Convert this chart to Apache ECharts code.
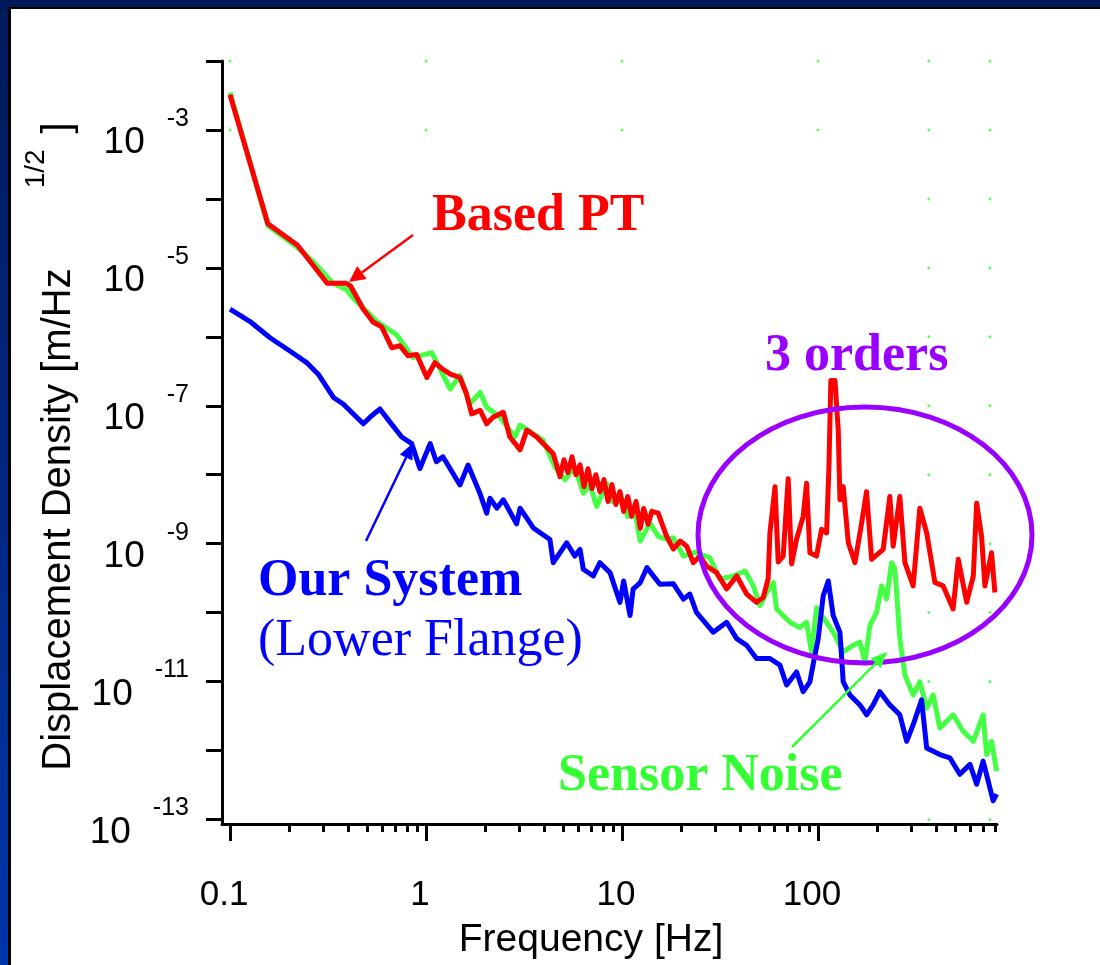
<!DOCTYPE html>
<html><head><meta charset="utf-8">
<script src="https://cdn.jsdelivr.net/npm/echarts@6/dist/echarts.min.js"></script>
<style>
html,body{margin:0;padding:0;width:1100px;height:965px;overflow:hidden;background:linear-gradient(180deg,#001a58 0%,#0036aa 100%);}
#panel{position:absolute;left:8px;top:7px;right:0;bottom:0;background:#fff;border-left:3px solid #000;border-top:2px solid #000;}
#chart{position:absolute;left:0;top:0;width:1100px;height:965px;}
</style></head><body><div id="panel"></div><div id="chart"></div>
<script>
// ---------------- data ----------------
const basedPTFreq = [0.1,0.156,0.221,0.313,0.391,0.413,0.478,0.537,0.594,0.668,0.736,0.809,0.897,1.01,1.11,1.22,1.33,1.49,1.61,1.71,1.89,2.04,2.20,2.48,2.68,3.02,3.27,3.67,4.46,4.83,5.06,5.30,5.56,5.82,6.11,6.40,6.71,7.03,7.36,7.72,8.09,8.49,8.89,9.31,9.77,10.2,10.7,11.2,11.8,12.4,12.9,13.6,14.2,15.3,16.9,18.3,19.8,21.4,23.1,25.0,27.0,30.4,34.2,38.5,43.3,48.6,52.6,55.7,56.9,60.4,62.7,66.5,70.5,73.4,77.8,84.1,87.5,91.0,98.4,104.4,110.7,113.8,116.4,122.2,127.0,129.5,134.6,142.9,154.5,167.1,177.0,187.9,215.3,232.8,242.1,261.8,277.9,306.2,331.1,358.9,395.4,435.5,489.8,520.0,574.1,620.9,645.7,684.0,711.2,769.1,799.8];
const basedPTVal = [3.24e-3,4.37e-5,2.13e-5,5.98e-6,5.98e-6,5.42e-6,2.53e-6,1.64e-6,1.39e-6,6.95e-7,7.43e-7,5.33e-7,5.56e-7,2.57e-7,4.23e-7,3.38e-7,2.87e-7,2.57e-7,1.48e-7,7.62e-8,8.61e-8,5.47e-8,6.84e-8,8.05e-8,3.52e-8,2.29e-8,4.44e-8,3.52e-8,2.02e-8,9.36e-9,1.64e-8,1.07e-8,1.82e-8,1.0e-8,1.39e-8,6.71e-9,1.22e-8,6.30e-9,1.0e-8,5.69e-9,8.47e-9,4.09e-9,7.18e-9,3.70e-9,5.69e-9,2.94e-9,4.82e-9,2.49e-9,4.09e-9,1.67e-9,3.24e-9,1.91e-9,2.94e-9,2.77e-9,1.28e-9,8.34e-10,1.09e-9,9.2e-10,5.30e-10,6.61e-10,4.74e-10,3.80e-10,2.21e-10,3.40e-10,1.86e-10,1.41e-10,1.66e-10,3.08e-10,1.43e-9,6.71e-9,5.42e-10,6.61e-10,8.75e-9,5.07e-10,1.16e-9,2.49e-9,7.50e-9,7.38e-10,6.61e-10,1.62e-9,1.43e-9,1.30e-8,2.33e-7,2.33e-7,4.40e-8,4.33e-9,6.71e-9,1.03e-9,5.30e-10,1.99e-9,5.69e-9,5.93e-10,8.26e-10,4.82e-9,9.2e-10,4.82e-9,5.30e-10,2.44e-10,3.27e-9,1.43e-9,2.73e-10,2.44e-10,1.13e-10,5.93e-10,1.41e-10,3.40e-10,3.86e-9,1.28e-9,2.44e-10,7.38e-10,1.96e-10];

const sensorFreq = [0.1,0.156,0.221,0.266,0.336,0.394,0.425,0.560,0.708,0.859,1.07,1.33,1.49,1.67,1.89,2.04,2.39,2.84,3.02,3.95,4.55,5.12,5.75,6.35,6.87,7.43,8.36,8.89,9.77,10.7,11.5,12.4,13.9,15.3,16.9,18.3,20.6,23.6,28.1,31.6,37.0,42.5,46.8,50.6,54.3,59.2,61.5,71.9,80.9,87.5,92.7,98.4,104.4,110.7,119.7,134.6,151.4,163.7,173.8,184.1,199.1,211.3,223.9,237.7,247.2,261.8,277.9,306.2,331.1,358.9,387.3,418.8,489.8,550.8,620.9,696.6,726.1,769.1,816.6];
const sensorVal = [3.47e-3,4.09e-5,1.97e-5,1.23e-5,5.98e-6,4.80e-6,3.64e-6,1.68e-6,1.07e-6,4.99e-7,5.89e-7,1.75e-7,2.75e-7,1.06e-7,1.56e-7,9.51e-8,6.84e-8,3.52e-8,5.24e-8,3.19e-8,1.30e-8,8.47e-9,1.30e-8,5.38e-9,7.18e-9,3.47e-9,7.50e-9,4.09e-9,5.38e-9,2.49e-9,3.47e-9,1.09e-9,1.99e-9,1.28e-9,1.16e-9,1.21e-9,6.61e-10,7.55e-10,6.25e-10,3.05e-10,3.40e-10,4.02e-10,2.44e-10,1.26e-10,1.88e-10,2.73e-10,1.13e-10,7.24e-11,6.08e-11,7.24e-11,2.69e-11,1.18e-10,9.06e-11,7.24e-11,5.21e-11,2.69e-11,3.35e-11,3.74e-11,1.93e-11,6.50e-11,1.01e-10,2.44e-10,1.57e-10,5.30e-10,4.26e-10,4.19e-11,1.24e-11,6.40e-12,9.93e-12,4.11e-12,6.40e-12,2.12e-12,3.30e-12,1.90e-12,1.36e-12,3.30e-12,8.75e-13,1.36e-12,5.04e-13];

const ourSystemFreq = [0.1,0.126,0.160,0.202,0.246,0.282,0.337,0.378,0.479,0.518,0.582,0.655,0.752,0.846,0.931,1.05,1.13,1.22,1.49,1.64,1.89,2.04,2.12,2.30,2.48,2.90,3.02,3.53,4.29,4.46,5.22,5.75,6.11,6.35,7.14,7.72,8.69,9.77,10.2,11.0,11.4,12.4,13.4,15.6,18.3,20.6,22.2,24.0,29.2,34.2,38.5,43.3,48.6,56.9,64.0,69.2,77.8,84.1,91.0,94.4,100.3,106.4,112.9,119.7,129.5,134.6,145.6,163.7,177.3,191.4,207.0,232.8,261.8,283.8,306.2,338.1,358.9,418.8,471.0,529.7,597.0,645.7,696.6,739.6,783.4,816.6];
const ourSystemVal = [2.53e-6,1.68e-6,9.68e-7,6.22e-7,4.23e-7,2.87e-7,1.32e-7,1.06e-7,5.47e-8,6.84e-8,8.99e-8,5.79e-8,3.52e-8,2.82e-8,1.23e-8,2.82e-8,1.54e-8,1.82e-8,7.11e-9,1.38e-8,5.24e-9,2.77e-9,4.56e-9,3.27e-9,4.33e-9,1.94e-9,3.27e-9,1.69e-9,1.15e-9,5.30e-10,1.03e-9,6.61e-10,8.26e-10,4.26e-10,3.40e-10,5.30e-10,3.80e-10,1.41e-10,2.88e-10,9.06e-11,2.19e-10,2.73e-10,4.49e-10,2.59e-10,2.62e-10,1.57e-10,1.86e-10,1.01e-10,5.21e-11,7.24e-11,4.19e-11,3.35e-11,2.16e-11,2.16e-11,1.73e-11,8.91e-12,1.38e-11,7.13e-12,9.93e-12,1.73e-11,4.19e-11,1.76e-10,2.88e-10,9.06e-11,5.21e-11,9.93e-12,6.40e-12,4.59e-12,3.30e-12,4.59e-12,7.13e-12,4.59e-12,3.30e-12,1.36e-12,2.37e-12,5.42e-12,1.09e-12,8.75e-13,7.85e-13,4.52e-13,6.30e-13,3.24e-13,7.01e-13,3.61e-13,1.87e-13,2.33e-13];

// sparse green dotted-grid markers
const gridDotFreq = [0.1,1,10,100,368,755, 0.1,1,10,100,368,755, 368,755, 368,755, 368,755, 368,755, 368,755, 368,755, 368,755, 368,755, 368,755, 368,755];
const gridDotVal  = [1e-2,1e-2,1e-2,1e-2,1e-2,1e-2, 1e-3,1e-3,1e-3,1e-3,1e-3,1e-3, 1e-4,1e-4, 1e-5,1e-5, 1e-6,1e-6, 1e-7,1e-7, 1e-8,1e-8, 1e-9,1e-9, 1e-10,1e-10, 1e-11,1e-11, 1e-12,1e-12, 1e-13,1e-13];

// axes
const xRange = [0.091, 820];
const yRange = [8.6e-14, 1e-2];
const xMajorTicks = [0.1, 1, 10, 100];
const xTickLabels = ['0.1', '1', '10', '100'];
const xMinorTicks = [0.2,0.3,0.4,0.5,0.6,0.7,0.8,0.9,2,3,4,5,6,7,8,9,20,30,40,50,60,70,80,90,200,300,400,500,600,700,800];
const yMajorTicks = [1e-2,1e-3,1e-4,1e-5,1e-6,1e-7,1e-8,1e-9,1e-10,1e-11,1e-12,1e-13];
const yLabelTicks = [1e-3,1e-5,1e-7,1e-9,1e-11,1e-13];
const yTickLabels = ['-3','-5','-7','-9','-11','-13'];

// ---------------- chart ----------------
const L = Math.log10;
const SANS = '"Liberation Sans", Arial, sans-serif';
const SERIF = '"Liberation Serif", "Times New Roman", serif';
const pairs = (fs, vs) => fs.map((f, i) => [L(f), L(vs[i])]);
const nearestIdx = (arr, v) => { let b = -1, d = 1e9; arr.forEach((a, i) => { const dd = Math.abs(L(a) - v); if (dd < d) { d = dd; b = i; } }); return d < 1e-6 ? b : -1; };

function arrow(x1, y1, x2, y2, color, w, hl, hw) {
  const a = Math.atan2(y2 - y1, x2 - x1);
  const bx = x2 - hl * Math.cos(a), by = y2 - hl * Math.sin(a);
  const px = -Math.sin(a) * hw, py = Math.cos(a) * hw;
  return [
    { type: 'line', z: 100, shape: { x1: x1, y1: y1, x2: bx, y2: by }, style: { stroke: color, lineWidth: w } },
    { type: 'polygon', z: 100, shape: { points: [[x2, y2], [bx + px, by + py], [bx - px, by - py]] }, style: { fill: color } }
  ];
}
function label(text, x, y, color, bold) {
  return { type: 'text', z: 100, style: { text: text, x: x, y: y, fill: color, font: (bold ? 'bold ' : '') + '52px ' + SERIF, align: 'left', verticalAlign: 'middle', textAlign: 'left', textVerticalAlign: 'middle' } };
}

const chart = echarts.init(document.getElementById('chart'), null, { renderer: 'canvas' });
const xAxisBase = { type: 'value', min: L(xRange[0]), max: L(xRange[1]), position: 'bottom', splitLine: { show: false } };
chart.setOption({
  animation: false,
  backgroundColor: 'transparent',
  grid: { left: 222, right: 103, top: 61, bottom: 135, containLabel: false },
  xAxis: [
    Object.assign({}, xAxisBase, {
      axisLine: { show: true, onZero: false, lineStyle: { color: '#000', width: 3 } },
      axisTick: { show: true, inside: false, length: 17, customValues: xMajorTicks.map(L), lineStyle: { color: '#000', width: 3 } },
      axisLabel: { show: true, customValues: xMajorTicks.map(L), margin: 54, color: '#000', fontSize: 35, fontFamily: SANS, padding: [0, 12, 0, 0],
        formatter: v => { const i = nearestIdx(xMajorTicks, v); return i >= 0 ? xTickLabels[i] : ''; } },
      name: 'Frequency [Hz]', nameLocation: 'middle', nameGap: 97,
      nameTextStyle: { color: '#000', fontSize: 39, fontFamily: SANS, padding: [0, 37, 0, 0] }
    }),
    Object.assign({}, xAxisBase, {
      axisLine: { show: false, onZero: false },
      axisTick: { show: true, inside: false, length: 8, customValues: xMinorTicks.map(L), lineStyle: { color: '#000', width: 3 } },
      axisLabel: { show: false }
    })
  ],
  yAxis: [{
    type: 'value', min: L(yRange[0]), max: L(yRange[1]), position: 'left', splitLine: { show: false },
    axisLine: { show: true, onZero: false, lineStyle: { color: '#000', width: 3 } },
    axisTick: { show: true, inside: false, length: 16, customValues: yMajorTicks.map(L), lineStyle: { color: '#000', width: 3 } },
    axisLabel: { show: true, customValues: yLabelTicks.map(L), margin: 33, align: 'right',
      formatter: v => { const i = nearestIdx(yLabelTicks, v); return i >= 0 ? '{b|10}{s|' + yTickLabels[i] + '}' : ''; },
      rich: {
        b: { fontSize: 37, fontFamily: SANS, color: '#000', lineHeight: 37, padding: [26, 0, 0, 0] },
        s: { fontSize: 25, fontFamily: SANS, color: '#000', lineHeight: 25, padding: [0, 0, 22, 22] }
      } },
    name: '{t|Displacement Density [m/Hz}{s|1/2}{t|]}', nameLocation: 'middle', nameRotate: 90, nameGap: 153,
    nameTextStyle: {
      padding: [0, 8, 0, 0],
      rich: {
        t: { fontSize: 40, fontFamily: SANS, color: '#000', lineHeight: 40, padding: [29, 0, 0, 0] },
        s: { fontSize: 28, fontFamily: SANS, color: '#000', lineHeight: 28, padding: [0, 16, 17, 80] }
      }
    }
  }],
  series: [
    { name: 'grid dots', type: 'scatter', silent: true, xAxisIndex: 0, z: 1, symbolSize: 3,
      itemStyle: { color: '#33ff33' }, data: pairs(gridDotFreq, gridDotVal) },
    { name: 'Sensor Noise', type: 'line', xAxisIndex: 0, z: 2, symbol: 'none', showSymbol: false,
      lineStyle: { color: '#44ff44', width: 5, join: 'round' }, data: pairs(sensorFreq, sensorVal) },
    { name: 'Based PT', type: 'line', xAxisIndex: 0, z: 3, symbol: 'none', showSymbol: false,
      lineStyle: { color: '#ff0000', width: 5, join: 'round' }, data: pairs(basedPTFreq, basedPTVal) },
    { name: 'Our System', type: 'line', xAxisIndex: 0, z: 4, symbol: 'none', showSymbol: false,
      lineStyle: { color: '#0000ff', width: 5, join: 'round' }, data: pairs(ourSystemFreq, ourSystemVal) }
  ],
  graphic: [
    { type: 'ellipse', z: 100, shape: { cx: 865, cy: 535, rx: 167, ry: 128 }, style: { fill: null, stroke: '#9900ff', lineWidth: 5 } },
    label('Based PT', 432, 217, '#ff0000', true),
    label('3 orders', 765, 357, '#9900ff', true),
    label('Our System', 258, 582, '#0000ff', true),
    label('(Lower Flange)', 258, 641, '#0000ff', false),
    label('Sensor Noise', 558, 777, '#33ff33', true)
  ].concat(
    arrow(413, 235, 349, 282, '#ff0000', 2.5, 16, 8),
    arrow(366, 541, 413, 443, '#0000ff', 2.5, 16, 7),
    arrow(792, 747, 887, 652, '#33ff33', 2.5, 16, 7)
  )
});
</script>
</body></html>
